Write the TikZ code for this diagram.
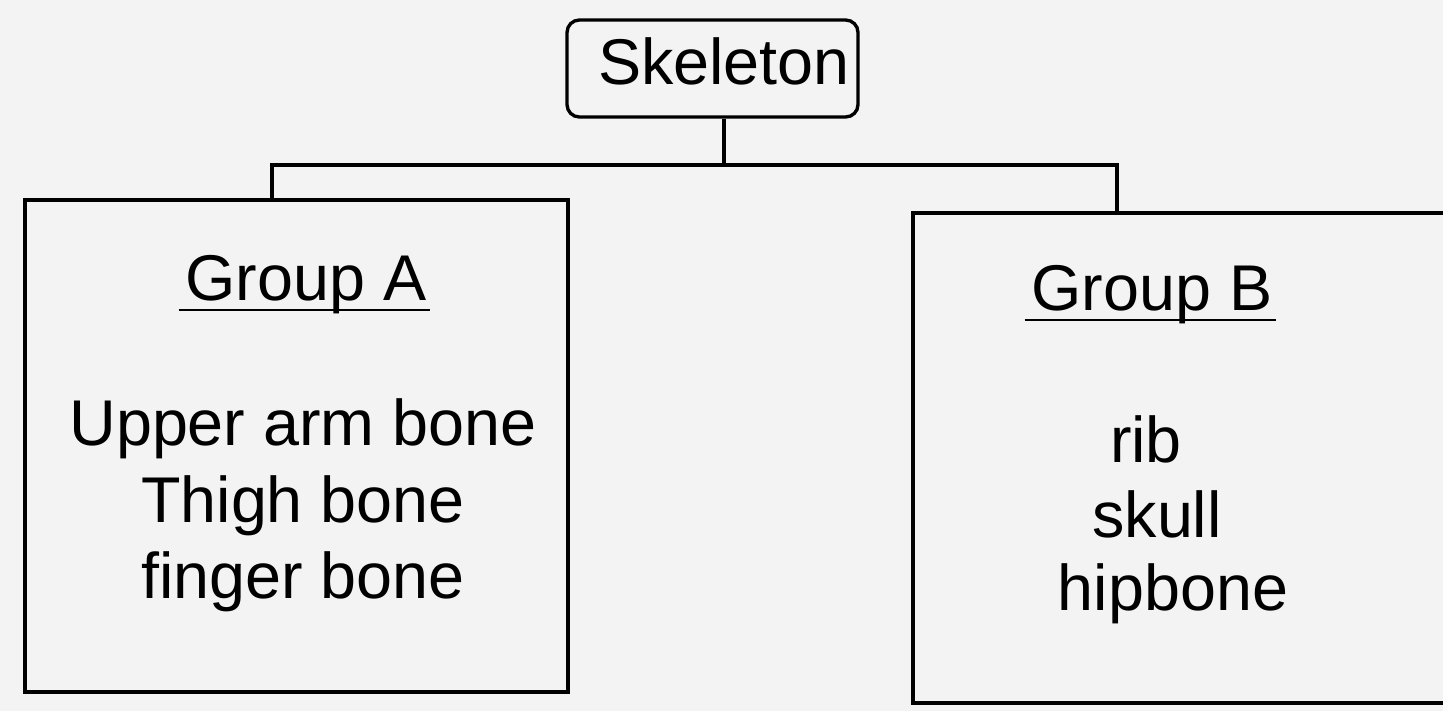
\documentclass[tikz,border=0pt]{standalone}
\usepackage{fontspec}
\setmainfont{Liberation Sans}
\usetikzlibrary{positioning}
\definecolor{scanbg}{RGB}{243,243,243}

\begin{document}
\begin{tikzpicture}[
        x=0.02cm, y=-0.02cm,
        line width=1.9pt,
        % Styles
        rootbox/.style={rectangle, draw=black, rounded corners=7pt, minimum width=5.82cm, minimum height=1.94cm, inner sep=0pt},
        groupbox/.style={rectangle, draw=black, minimum width=10.86cm, minimum height=9.84cm, inner sep=0pt},
        heading/.style={font=\fontsize{36.8}{40}\selectfont, anchor=base, inner sep=0pt},
        item/.style={font=\fontsize{36.8}{40}\selectfont, anchor=base, inner sep=0pt},
        uline/.style={draw=black, line width=1.3pt},
        link/.style={draw=black, line width=1.9pt}
    ]

    % background and frame
    \fill[scanbg] (0,0) rectangle (1443,711);
    \clip (0,0) rectangle (1443,711);

    % ================= ROOT =================
    \node[rootbox] (skel) at (712.5,68.5) {};
    \node[heading] (skeltxt) at (724,84) {Skeleton};

    % ================= GROUPS =================
    \node[groupbox] (grpA) at (296.5,446) {};
    \node[groupbox, minimum width=10.9cm, minimum height=9.8cm] (grpB) at (1185.5,458) {};

    \node[heading] (headA) at (306,300) {Group A};
    \node[heading] (headB) at (1152,310) {Group B};
    \draw[uline] ([xshift=-3pt, yshift=-0.2cm]headA.base west) -- ([xshift=1pt, yshift=-0.2cm]headA.base east);
    \draw[uline] ([xshift=-3pt, yshift=-0.2cm]headB.base west) -- ([xshift=1pt, yshift=-0.2cm]headB.base east);

    % bone lists
    \foreach \txt/\yy [count=\i] in {Upper arm bone/445, Thigh bone/522, finger bone/598} {
        \node[item] (itemA\i) at (303,\yy) {\txt};
    }
    \foreach \txt/\xx/\yy [count=\i] in {rib/1146/462, skull/1157/537, hipbone/1173/610} {
        \node[item] (itemB\i) at (\xx,\yy) {\txt};
    }

    % ================= CONNECTORS =================
    \coordinate (jn) at (skeltxt.base |- 0,165);
    \coordinate (dropA) at (272,200);
    \coordinate (dropB) at (1117,213);
    \draw[link] (skeltxt.base |- skel.south) -- (jn);
    \draw[link] (dropA) |- (jn) -| (dropB);

\end{tikzpicture}
\end{document}
